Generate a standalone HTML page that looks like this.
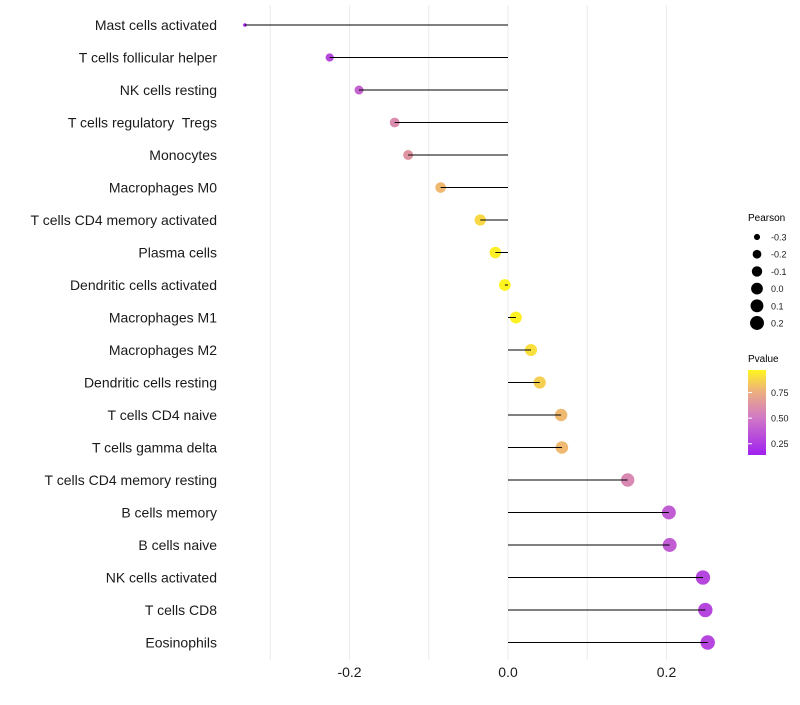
<!DOCTYPE html>
<html><head><meta charset="utf-8"><style>
body{margin:0;background:#fff;font-family:"Liberation Sans",sans-serif}
text{white-space:pre}
</style></head><body>
<svg id="chart" width="800" height="700" xmlns="http://www.w3.org/2000/svg" font-family="Liberation Sans, sans-serif">
<defs><linearGradient id="pg" x1="0" y1="1" x2="0" y2="0">
<stop offset="0" stop-color="#A020F0"/><stop offset="0.45" stop-color="#D27BC4"/><stop offset="0.75" stop-color="#EDB07E"/><stop offset="1" stop-color="#FFF51E"/>
</linearGradient></defs>
<g id="grid"></g><g id="dots"></g><g id="stems"></g><g id="labels"></g><g id="xticks"></g>
<g font-size="10">
<text x="748" y="221" fill="#000">Pearson</text>
<g id="sizeleg"></g>
</g>
<g font-size="10">
<text x="748" y="362" fill="#000">Pvalue</text>
<rect x="748" y="370" width="18" height="85" fill="url(#pg)"/>
<g id="colleg"></g>
</g>
</svg>
<script>
const categories=["Mast cells activated","T cells follicular helper","NK cells resting","T cells regulatory  Tregs","Monocytes","Macrophages M0","T cells CD4 memory activated","Plasma cells","Dendritic cells activated","Macrophages M1","Macrophages M2","Dendritic cells resting","T cells CD4 naive","T cells gamma delta","T cells CD4 memory resting","B cells memory","B cells naive","NK cells activated","T cells CD8","Eosinophils"];
const pearson=[-0.332,-0.225,-0.188,-0.143,-0.126,-0.085,-0.035,-0.016,-0.004,0.010,0.029,0.040,0.067,0.068,0.151,0.203,0.204,0.246,0.249,0.252];
const pvalue=[0.15,0.30,0.40,0.58,0.62,0.78,0.88,0.95,0.99,0.96,0.90,0.85,0.78,0.78,0.56,0.38,0.38,0.29,0.29,0.29];
const xTicks=[-0.2,0.0,0.2];
const xTickLabels=["-0.2","0.0","0.2"];
const xMinor=[-0.3,-0.1,0.1];
const sizeLegVals=[-0.3,-0.2,-0.1,0.0,0.1,0.2];
const colLegVals=[0.25,0.50,0.75];
const NS="http://www.w3.org/2000/svg";
const X=v=>508+v*792.5, Y=i=>25+i*32.5;
const pMin=Math.min(...pearson), pMax=Math.max(...pearson);
const R=v=>{const t=Math.max(0,Math.min(1,(v-pMin)/(pMax-pMin)));return 1.2*(1.5+4.5*Math.sqrt(t));};
const CY=p=>455-(p-0.14)/0.83*85;
function col(p){const st=[[0.14,[160,32,240]],[0.5,[210,123,196]],[0.75,[237,176,126]],[0.97,[255,245,30]]];
if(p<=st[0][0])return "rgb("+st[0][1]+")";
for(let k=1;k<st.length;k++){if(p<=st[k][0]){const t=(p-st[k-1][0])/(st[k][0]-st[k-1][0]);return "rgb("+st[k-1][1].map((c,j)=>Math.round(c+(st[k][1][j]-c)*t)).join(",")+")";}}
return "rgb("+st[3][1]+")";}
function mk(t,a,p){const e=document.createElementNS(NS,t);for(const k in a)e.setAttribute(k,a[k]);p.appendChild(e);return e;}
const grid=document.getElementById("grid");
xTicks.concat(xMinor).forEach(v=>{const l=mk("line",{x1:X(v),x2:X(v),y1:5,y2:660,stroke:"#ebebeb","stroke-width":1},grid);

});
const dots=document.getElementById("dots"),stems=document.getElementById("stems"),labels=document.getElementById("labels");
categories.forEach((c,i)=>{
const d=mk("circle",{cx:X(pearson[i]),cy:Y(i),r:R(pearson[i]),fill:col(pvalue[i])},dots);


const s=mk("line",{x1:X(0),x2:X(pearson[i]),y1:Y(i),y2:Y(i),stroke:"#000","stroke-width":1},stems);


const t=mk("text",{x:217,y:Y(i)+5,"text-anchor":"end","font-size":14,fill:"#1a1a1a"},labels);t.textContent=c;


});
const xt=document.getElementById("xticks");
xTicks.forEach((v,i)=>{const t=mk("text",{x:X(v),y:677,"text-anchor":"middle","font-size":14,fill:"#1a1a1a"},xt);t.textContent=xTickLabels[i];

});
const sl=document.getElementById("sizeleg");
sizeLegVals.forEach((v,i)=>{const y=237+i*17.2;
const c=mk("circle",{cx:757,cy:y,r:Math.max(2.5,R(v)),fill:"#000"},sl);


const t=mk("text",{x:771,y:y+3.5,"font-size":9,fill:"#1a1a1a"},sl);t.textContent=v.toFixed(1);

});
const cl=document.getElementById("colleg");
colLegVals.forEach(v=>{const y=CY(v);
const l=mk("line",{x1:748,x2:752,y1:y,y2:y,stroke:"#fff","stroke-width":1},cl);


const t=mk("text",{x:771,y:y+3.5,"font-size":9,fill:"#1a1a1a"},cl);t.textContent=v.toFixed(2);

});
</script>
</body></html>
